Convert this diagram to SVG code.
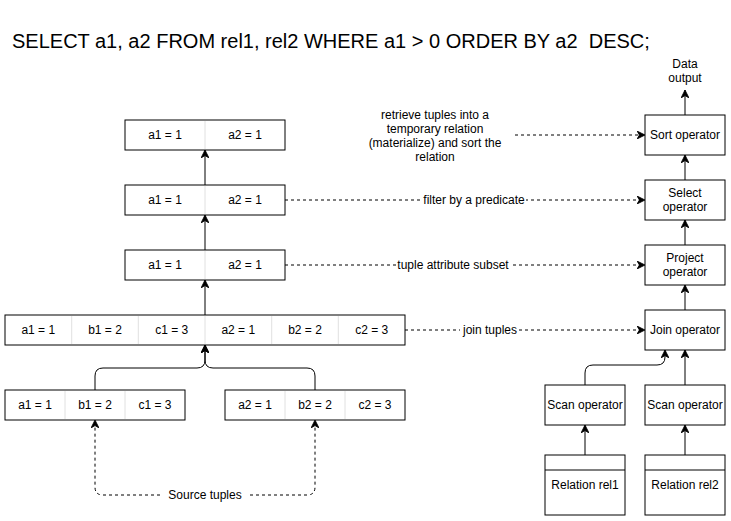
<svg xmlns="http://www.w3.org/2000/svg" width="731" height="521" viewBox="0 0 731 521">
<defs>
<marker id="arr" viewBox="0 0 10 10" refX="10" refY="5" markerWidth="8" markerHeight="8" markerUnits="userSpaceOnUse" orient="auto">
<path d="M0,0 L10,5 L0,10 L3,5 z" fill="#000" stroke="#000" stroke-width="1" stroke-dasharray="none"/>
</marker>
<style>
text{font-family:"Liberation Sans",Arial,sans-serif;font-size:12px;fill:#000;text-anchor:middle}
.title{font-size:20px;text-anchor:start;white-space:pre}
.box{fill:#fff;stroke:#000;stroke-width:1}
.div{stroke:#e0e0e0;stroke-width:1}
.edge{fill:none;stroke:#000;stroke-width:1;marker-end:url(#arr)}
.dash{stroke-dasharray:3 3}
.lbg{fill:#fff}
</style>
</defs>
<rect width="731" height="521" fill="#fff"/>
<text class="title" x="12" y="48" xml:space="preserve">SELECT a1, a2 FROM rel1, rel2 WHERE a1 &gt; 0 ORDER BY a2  DESC;</text>

<g id="connectors">
<path class="edge" d="M205,185 L205,150"/>
<path class="edge" d="M205,250 L205,215"/>
<path class="edge" d="M205,315 L205,280"/>
<path class="edge" d="M95,390 L95,376 Q95,368 103,368 L197,368 Q205,368 205,360 L205,345"/>
<path class="edge" d="M315,390 L315,376 Q315,368 307,368 L213,368 Q205,368 205,360 L205,345"/>
<path class="edge dash" d="M160,495 L103,495 Q95,495 95,487 L95,420"/>
<path class="edge dash" d="M250,495 L307,495 Q315,495 315,487 L315,420"/>
<path class="edge dash" d="M515,135 L645,135"/>
<path class="edge dash" d="M285,200 L645,200"/>
<path class="edge dash" d="M285,265 L645,265"/>
<path class="edge dash" d="M405,330 L645,330"/>
<path class="edge" d="M685,115 L685,90"/>
<path class="edge" d="M685,180 L685,155"/>
<path class="edge" d="M685,245 L685,220"/>
<path class="edge" d="M685,310 L685,285"/>
<path class="edge" d="M585,385 L585,373 Q585,365 593,365 L657,365 Q665,365 665,357 L665,350"/>
<path class="edge" d="M685,385 L685,350"/>
<path class="edge" d="M585,455 L585,425"/>
<path class="edge" d="M685,455 L685,425"/>
<rect class="lbg" x="422" y="192" width="104" height="15"/>
<text x="474" y="204">filter by a predicate</text>
<rect class="lbg" x="396" y="257" width="114" height="15"/>
<text x="453" y="269">tuple attribute subset</text>
<rect class="lbg" x="460" y="322" width="59" height="15"/>
<text x="490" y="334">join tuples</text>
<text x="205" y="499">Source tuples</text>
<text x="435" y="119">retrieve tuples into a</text>
<text x="435" y="133">temporary relation</text>
<text x="435" y="147">(materialize) and sort the</text>
<text x="435" y="161">relation</text>
<text x="685" y="68">Data</text>
<text x="685" y="82">output</text>
</g>

<g id="tuple-sort">
<rect class="box" x="125" y="120" width="160" height="30"/>
<line class="div" x1="205" y1="121" x2="205" y2="149"/>
<text x="165" y="139">a1 = 1</text><text x="245" y="139">a2 = 1</text>
</g>
<g id="tuple-select">
<rect class="box" x="125" y="185" width="160" height="30"/>
<line class="div" x1="205" y1="186" x2="205" y2="214"/>
<text x="165" y="204">a1 = 1</text><text x="245" y="204">a2 = 1</text>
</g>
<g id="tuple-project">
<rect class="box" x="125" y="250" width="160" height="30"/>
<line class="div" x1="205" y1="251" x2="205" y2="279"/>
<text x="165" y="269">a1 = 1</text><text x="245" y="269">a2 = 1</text>
</g>
<g id="tuple-join">
<rect class="box" x="5" y="315" width="400" height="30"/>
<line class="div" x1="71.7" y1="316" x2="71.7" y2="344"/>
<line class="div" x1="138.3" y1="316" x2="138.3" y2="344"/>
<line class="div" x1="205" y1="316" x2="205" y2="344"/>
<line class="div" x1="271.7" y1="316" x2="271.7" y2="344"/>
<line class="div" x1="338.3" y1="316" x2="338.3" y2="344"/>
<text x="38.3" y="334">a1 = 1</text><text x="105" y="334">b1 = 2</text><text x="171.7" y="334">c1 = 3</text>
<text x="238.3" y="334">a2 = 1</text><text x="305" y="334">b2 = 2</text><text x="371.7" y="334">c2 = 3</text>
</g>
<g id="tuple-rel1">
<rect class="box" x="5" y="390" width="180" height="30"/>
<line class="div" x1="65" y1="391" x2="65" y2="419"/>
<line class="div" x1="125" y1="391" x2="125" y2="419"/>
<text x="35" y="409">a1 = 1</text><text x="95" y="409">b1 = 2</text><text x="155" y="409">c1 = 3</text>
</g>
<g id="tuple-rel2">
<rect class="box" x="225" y="390" width="180" height="30"/>
<line class="div" x1="285" y1="391" x2="285" y2="419"/>
<line class="div" x1="345" y1="391" x2="345" y2="419"/>
<text x="255" y="409">a2 = 1</text><text x="315" y="409">b2 = 2</text><text x="375" y="409">c2 = 3</text>
</g>

<g id="sort-op"><rect class="box" x="645" y="115" width="80" height="40"/><text x="685" y="139">Sort operator</text></g>
<g id="select-op"><rect class="box" x="645" y="180" width="80" height="40"/><text x="685" y="197">Select</text><text x="685" y="211">operator</text></g>
<g id="project-op"><rect class="box" x="645" y="245" width="80" height="40"/><text x="685" y="262">Project</text><text x="685" y="276">operator</text></g>
<g id="join-op"><rect class="box" x="645" y="310" width="80" height="40"/><text x="685" y="334">Join operator</text></g>
<g id="scan-op1"><rect class="box" x="545" y="385" width="80" height="40"/><text x="585" y="409">Scan operator</text></g>
<g id="scan-op2"><rect class="box" x="645" y="385" width="80" height="40"/><text x="685" y="409">Scan operator</text></g>
<g id="rel1"><rect class="box" x="545" y="455" width="80" height="60"/><line x1="545" y1="470" x2="625" y2="470" stroke="#000"/><text x="585" y="489">Relation rel1</text></g>
<g id="rel2"><rect class="box" x="645" y="455" width="80" height="60"/><line x1="645" y1="470" x2="725" y2="470" stroke="#000"/><text x="685" y="489">Relation rel2</text></g>
</svg>
